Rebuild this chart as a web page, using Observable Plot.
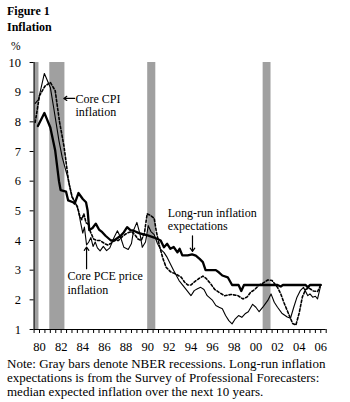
<!DOCTYPE html>
<html><head><meta charset="utf-8">
<script src="https://cdn.jsdelivr.net/npm/d3@7"></script>
<script src="https://cdn.jsdelivr.net/npm/@observablehq/plot@0.6"></script>
<style>
body{margin:0;background:#fff;}
#wrap{position:relative;width:350px;height:402px;overflow:hidden;font-family:"Liberation Serif","Times New Roman",serif;color:#000;background:#fff;}
.abs{position:absolute;left:7px;white-space:nowrap;}
</style></head><body>
<div id="wrap">
<div id="chart" style="position:absolute;left:0;top:50px"></div>
<div class="abs" style="top:3.5px;font-weight:bold;font-size:12px;line-height:14px">Figure 1</div>
<div class="abs" style="top:19.5px;font-weight:bold;font-size:12px;line-height:14px">Inflation</div>
<div class="abs" style="top:38.5px;left:11px;font-size:11.5px;line-height:14px">%</div>
<div class="abs" style="top:356.5px;font-size:13px;line-height:14px">Note: Gray bars denote NBER recessions. Long-run inflation<br>expectations is from the Survey of Professional Forecasters:<br>median expected inflation over the next 10 years.</div>
</div>
<script>
// ---- data ----
const recessions = [[1980.1, 1980.45], [1981.45, 1982.85], [1990.5, 1991.25], [2001.17, 2001.9]];

const coreCPI = [
[1980.1,7.98],[1980.5,8.88],[1981.0,9.2],[1981.5,9.33],[1981.95,9.05],[1982.35,8.0],[1982.75,7.2],[1982.9,6.8],
[1983.2,5.96],[1983.5,5.5],[1983.8,5.25],[1984.0,5.15],[1984.2,4.85],[1984.4,4.7],[1984.6,4.9],[1984.8,4.6],
[1985.0,4.55],[1985.2,4.3],[1985.5,4.05],[1985.8,4.0],[1986.1,4.0],[1986.5,3.9],[1986.8,3.85],[1987.1,3.9],
[1987.4,4.0],[1987.8,4.0],[1988.2,4.15],[1988.6,4.25],[1989.0,4.3],[1989.3,4.2],[1989.6,4.05],[1989.9,4.0],
[1990.2,4.25],[1990.45,4.9],[1990.75,4.85],[1991.1,4.75],[1991.3,4.3],[1991.6,3.8],[1991.9,3.4],[1992.2,3.1],
[1992.6,2.95],[1992.9,2.9],[1993.2,2.85],[1993.6,2.76],[1993.9,2.6],[1994.2,2.5],[1994.5,2.5],[1994.8,2.6],
[1995.2,2.71],[1995.6,2.8],[1995.9,2.72],[1996.3,2.55],[1996.7,2.35],[1997.1,2.25],[1997.6,2.14],[1998.2,2.18],
[1998.8,2.15],[1999.3,2.03],[1999.7,2.1],[2000.0,2.25],[2000.4,2.35],[2000.8,2.5],[2001.1,2.55],[2001.6,2.67],
[2002.0,2.65],[2002.5,2.42],[2002.8,2.2],[2003.1,1.9],[2003.5,1.55],[2003.9,1.2],[2004.2,1.15],[2004.5,1.55],
[2004.8,2.1],[2005.1,2.35],[2005.4,2.4],[2005.8,2.3],[2006.2,2.28],[2006.5,2.5]];

const corePCE = [
[1980.1,8.62],[1980.4,8.75],[1980.95,9.63],[1981.5,9.16],[1981.8,8.5],[1982.3,7.36],[1982.6,6.8],[1983.2,6.0],
[1983.5,5.45],[1983.8,5.3],[1984.1,5.0],[1984.3,4.6],[1984.5,4.25],[1984.65,4.45],[1984.85,3.85],[1985.05,3.95],
[1985.25,4.1],[1985.45,3.8],[1985.65,3.95],[1985.85,3.75],[1986.1,3.65],[1986.4,3.8],[1986.7,3.66],[1987.0,3.75],
[1987.4,4.11],[1987.7,4.33],[1988.0,4.1],[1988.3,3.77],[1988.7,3.7],[1989.0,3.9],[1989.2,4.35],[1989.5,4.61],
[1989.8,4.2],[1990.0,3.77],[1990.3,3.95],[1990.55,4.5],[1990.8,4.3],[1991.1,4.2],[1991.4,3.9],[1991.7,3.7],
[1992.0,3.6],[1992.3,3.43],[1992.9,2.99],[1993.4,2.65],[1993.9,2.42],[1994.5,2.14],[1994.8,2.31],[1995.1,2.37],
[1995.4,2.42],[1995.7,2.35],[1996.0,2.14],[1996.5,1.98],[1996.8,1.81],[1997.1,1.75],[1997.4,1.7],[1997.7,1.47],
[1998.0,1.3],[1998.3,1.19],[1998.6,1.36],[1998.9,1.47],[1999.2,1.41],[1999.5,1.53],[1999.8,1.6],[2000.2,1.85],
[2000.5,1.75],[2000.8,1.6],[2001.2,1.78],[2001.6,1.98],[2001.9,2.2],[2002.2,1.92],[2002.5,1.75],[2002.9,1.55],
[2003.4,1.42],[2003.7,1.38],[2004.0,1.75],[2004.3,2.09],[2004.6,2.31],[2004.9,2.42],[2005.3,2.14],[2005.5,2.2],
[2005.75,2.09],[2006.0,2.12],[2006.2,2.03],[2006.45,2.42]];

const longRunExpectations = [
[1980.35,7.86],[1980.95,8.3],[1981.5,7.81],[1981.95,7.03],[1982.3,6.0],[1982.45,5.7],[1982.95,5.65],[1983.15,5.35],
[1983.6,5.29],[1983.75,5.24],[1984.1,5.6],[1984.5,5.4],[1984.8,5.29],[1984.95,5.0],[1985.1,4.35],[1985.4,4.42],
[1985.7,4.57],[1986.0,4.37],[1986.3,4.28],[1986.6,4.16],[1987.1,4.0],[1987.4,4.0],[1988.0,4.16],[1988.3,4.28],
[1988.6,4.45],[1988.9,4.35],[1989.2,4.33],[1989.7,4.25],[1990.2,4.2],[1990.5,4.17],[1991.1,4.1],[1991.7,4.0],
[1992.0,3.77],[1992.3,3.89],[1992.6,3.72],[1992.9,3.78],[1993.25,3.6],[1993.45,3.72],[1993.7,3.5],[1994.2,3.5],
[1994.6,3.53],[1994.95,3.49],[1995.3,3.38],[1995.6,3.27],[1995.85,3.0],[1996.8,3.0],[1997.1,2.92],[1997.4,2.82],
[1997.9,2.76],[1998.3,2.5],[1998.9,2.5],[1999.15,2.3],[1999.4,2.5],[2002.5,2.5],[2002.8,2.45],[2003.0,2.5],
[2005.1,2.5],[2005.3,2.42],[2005.5,2.5],[2006.5,2.5]];

const yTicks = [1, 2, 3, 4, 5, 6, 7, 8, 9, 10];
const xTickLabels = ["80","82","84","86","88","90","92","94","96","98","00","02","04","06"];

// annotations (in data units)
const seriesLabels = [
  {x: 1983.83, y: 8.2, text: "Core CPI\ninflation"},
  {x: 1983.09, y: 2.21, text: "Core PCE price\ninflation"},
  {x: 1992.35, y: 4.36, text: "Long-run inflation\nexpectations"}
];
const labelArrows = [
  {x1: 1983.75, y1: 8.79, x2: 1982.75, y2: 8.79},
  {x1: 1984.85, y1: 3.05, x2: 1984.85, y2: 3.78},
  {x1: 1994.64, y1: 4.16, x2: 1994.64, y2: 3.63}
];

// ---- chart ----
const labelYears = xTickLabels.map(s => (+s < 50 ? 2000 : 1900) + +s + 0.5);
const labelMap = new Map(labelYears.map((y, i) => [y, xTickLabels[i]]));
const halfYears = d3.range(1980, 2007.001, 0.5);

const chart = Plot.plot({
  width: 350, height: 306,
  marginLeft: 33.6, marginRight: 24.3, marginTop: 12, marginBottom: 27,
  style: {fontFamily: "'Liberation Serif','Times New Roman',serif", fontSize: "12.5px", color: "#000", background: "transparent"},
  x: {domain: [1980, 2007], label: null},
  y: {domain: [1, 10], label: null},
  marks: [
    Plot.rect(recessions, {x1: d => d[0], x2: d => d[1], fill: "#a0a0a0"}),
    Plot.axisY({ticks: yTicks, tickSize: 4, tickPadding: 9, tickFormat: d => String(d), label: null}),
    Plot.axisX({ticks: halfYears, tickSize: 4, tickFormat: () => "", label: null}),
    Plot.axisX({ticks: labelYears, tickSize: 0, tickPadding: 12.5, tickFormat: d => labelMap.get(d), label: null}),
    Plot.ruleX([1980], {stroke: "#000", strokeWidth: 1.2}),
    Plot.ruleY([1], {stroke: "#000", strokeWidth: 1.2}),
    Plot.line(coreCPI, {x: d => d[0], y: d => d[1], stroke: "#000", strokeWidth: 1.6, strokeDasharray: "2.5,2"}),
    Plot.line(corePCE, {x: d => d[0], y: d => d[1], stroke: "#000", strokeWidth: 1.1}),
    Plot.line(longRunExpectations, {x: d => d[0], y: d => d[1], stroke: "#000", strokeWidth: 2.3}),
    Plot.arrow(labelArrows, {x1: "x1", y1: "y1", x2: "x2", y2: "y2", stroke: "#000", strokeWidth: 1.2, headLength: 5, headAngle: 70}),
    Plot.text(seriesLabels, {x: "x", y: "y", text: "text", textAnchor: "start", lineAnchor: "bottom", fontSize: 12, lineHeight: 1.1, fill: "#000"})
  ]
});
document.getElementById("chart").appendChild(chart);
</script>
</body></html>
